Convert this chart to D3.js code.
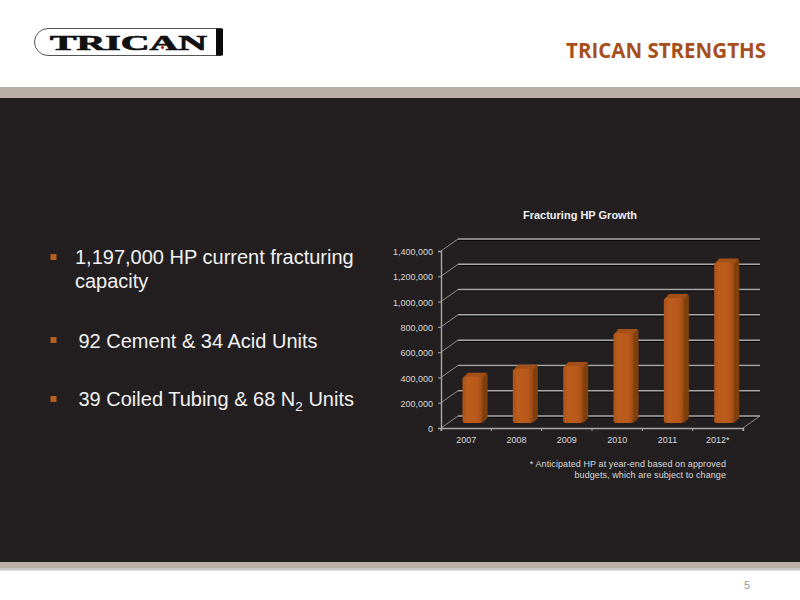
<!DOCTYPE html>
<html><head><meta charset="utf-8">
<script src="https://cdn.jsdelivr.net/npm/d3@7"></script>
<style>html,body{margin:0;padding:0;background:#fff}svg{display:block}text{font-family:"Liberation Sans",Arial,sans-serif}</style>
</head><body><div id="c"></div>
<script>
const categories = ["2007","2008","2009","2010","2011","2012*"];
const hpValues = [365000,430000,450000,712000,988000,1270000];
const yTicks = [0,200000,400000,600000,800000,1000000,1200000,1400000];
const chartTitle = "Fracturing HP Growth";
const footnoteLines = ["*  Anticipated HP at year-end based on approved","budgets, which are subject to change"];

const svg = d3.select("#c").append("svg").attr("width",800).attr("height",600);
const defs = svg.append("defs");
const g1 = defs.append("linearGradient").attr("id","front");
[[0,"#a9521a"],[0.25,"#bb5d1c"],[0.75,"#b8591a"],[1,"#9c4a15"]].forEach(s=>g1.append("stop").attr("offset",s[0]).attr("stop-color",s[1]));
const blur = defs.append("filter").attr("id","soft").attr("x","-10%").attr("y","-10%").attr("width","120%").attr("height","120%");
blur.append("feGaussianBlur").attr("stdDeviation",0.4);

// slide frame
svg.append("rect").attr("width",800).attr("height",600).attr("fill","#fff");
svg.append("rect").attr("y",87).attr("width",800).attr("height",12).attr("fill","#b8b0a4");
svg.append("rect").attr("y",98).attr("width",800).attr("height",465).attr("fill","#231f20");
svg.append("rect").attr("y",562).attr("width",800).attr("height",6).attr("fill","#b8b0a4");
svg.append("rect").attr("y",568).attr("width",800).attr("height",2.5).attr("fill","#c8c8cc");

// logo
const logo = svg.append("g");
logo.append("path").attr("d","M221,28.5 H48 A13.5,13.5 0 0 0 48,55.5 H221").attr("fill","none").attr("stroke","#555").attr("stroke-width",1);
logo.append("rect").attr("x",216).attr("y",28.5).attr("width",7).attr("height",27).attr("fill","#0a0a0a");
logo.append("text").attr("x",50).attr("y",50).attr("textLength",157).attr("lengthAdjust","spacingAndGlyphs")
  .attr("font-size",21).attr("font-weight",700).attr("fill","#111").attr("stroke","#111").attr("stroke-width",.7)
  .style("font-family","'Liberation Serif',serif").text("TRICAN");
logo.append("path").attr("d","M162.5,45.5 l1.8,2 -1.8,2 -1.8,-2z").attr("fill","#b01c1c");

svg.append("text").attr("x",766).attr("y",58).attr("text-anchor","end").attr("font-size",22).attr("font-weight",700)
  .attr("textLength",200).attr("lengthAdjust","spacingAndGlyphs")
  .attr("fill","#a84f1e").style("font-family","'Open Sans',sans-serif").text("TRICAN STRENGTHS");
svg.append("text").attr("x",747).attr("y",589).attr("text-anchor","middle").attr("font-size",11).attr("fill","#999").text("5");

// bullets
const bullets = [
  {by:257,tx:75,ty:264,parts:[["1,197,000 HP current fracturing"]]},
  {by:340,tx:78.5,ty:348,parts:[["92 Cement & 34 Acid Units"]]},
  {by:399,tx:78.5,ty:406,parts:[["39 Coiled Tubing & 68 N"],["2",1],[" Units"]]}
];
bullets.forEach(b=>{
  svg.append("rect").attr("x",50.5).attr("y",b.by-3).attr("width",6).attr("height",6).attr("fill","#b5601f");
  const t = svg.append("text").attr("x",b.tx).attr("y",b.ty).attr("font-size",20).attr("fill","#f2f2f2");
  b.parts.forEach(p=>{
    const s = t.append("tspan").text(p[0]);
    if(p[1]) s.attr("font-size",13.5).attr("dy",5);
    else if(t.selectAll("tspan").size()>1) s.attr("dy",-5);
  });
});
svg.append("text").attr("x",75).attr("y",288).attr("font-size",20).attr("fill","#f2f2f2").text("capacity");

// chart
const x0=441,x1=743,yT=251,yB=428,dx=17,dy=-12;
const x = d3.scaleBand().domain(categories).range([x0,x1]);
const y = d3.scaleLinear().domain([0,1400000]).range([yB,yT]);
const grid = "#a8a8a8";

const chart = svg.append("g");
yTicks.forEach(v=>{
  chart.append("line").attr("x1",x0).attr("x2",x0+dx).attr("y1",y(v)).attr("y2",y(v)+dy).attr("stroke",grid).attr("stroke-width",.8);
  chart.append("line").attr("x1",x0+dx).attr("x2",x1+dx).attr("y1",y(v)+dy+1.2).attr("y2",y(v)+dy+1.2).attr("stroke","#000").attr("stroke-width",1);
  chart.append("line").attr("x1",x0+dx).attr("x2",x1+dx).attr("y1",y(v)+dy).attr("y2",y(v)+dy).attr("stroke",grid).attr("stroke-width",1.5);
});
chart.append("line").attr("x1",x1).attr("x2",x1+dx).attr("y1",yB).attr("y2",yB+dy).attr("stroke",grid).attr("stroke-width",.8);

// bars
const bw=20, bdx=5, bdy=-4, inset=21.5, floorLift=5;
const bars = chart.selectAll("g.bar").data(categories.map((c,i)=>({c,v:hpValues[i]}))).join("g").attr("class","bar").attr("filter","url(#soft)");
bars.each(function(d){
  const g=d3.select(this), l=x(d.c)+inset, r=l+bw, t=y(d.v)-floorLift, b=yB-floorLift;
  g.append("path").attr("d",`M${r-2},${t} L${r+bdx-1},${t+bdy} L${r+bdx},${t+bdy+2} V${b+bdy-1} L${r},${b}Z`).attr("fill","#80400f");
  g.append("path").attr("d",`M${l+1},${t+1} L${l+bdx},${t+bdy} H${r+bdx-1} L${r},${t+1}Z`).attr("fill","#a34f18");
  g.append("rect").attr("x",l).attr("y",t).attr("width",bw).attr("height",b-t).attr("rx",2.5).attr("fill","url(#front)");
});

// axes
const yAxis = d3.axisLeft(y).tickValues(yTicks).tickFormat(d3.format(",")).tickSize(3).tickPadding(5);
const ya = svg.append("g").attr("transform",`translate(${x0},0)`).call(yAxis);
const xAxis = d3.axisBottom(x).tickSize(3).tickPadding(6);
const xa = svg.append("g").attr("transform",`translate(0,${yB})`).call(xAxis);
xa.selectAll(".tick line").remove();
x.domain().concat(["end"]).forEach(c=>{
  const px = c==="end"?x1:x(c);
  xa.append("line").attr("x1",px).attr("x2",px).attr("y1",0).attr("y2",3).attr("stroke",grid);
});
[ya,xa].forEach(a=>{
  a.selectAll("path.domain").attr("stroke",grid).attr("stroke-width",1.4);
  a.selectAll(".tick line").attr("stroke",grid);
  a.selectAll("text").attr("fill","#d9d9d9").attr("font-size",9).style("font-family","'Liberation Sans',sans-serif");
});
ya.selectAll("text").attr("dy","0.4em");

svg.append("text").attr("x",580).attr("y",219).attr("text-anchor","middle").attr("font-size",11).attr("font-weight",700).attr("fill","#f0f0f0").text(chartTitle);
footnoteLines.forEach((s,i)=>{
  svg.append("text").attr("x",726).attr("y",467+i*11).attr("text-anchor","end").attr("font-size",9).attr("letter-spacing",0.08).attr("fill","#d9d9d9").text(s);
});
</script></body></html>
